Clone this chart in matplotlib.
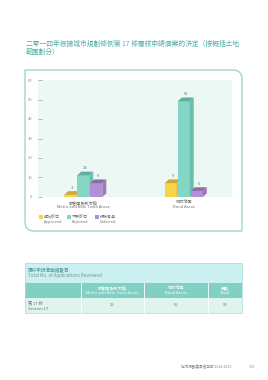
import matplotlib
matplotlib.use('Agg')

import matplotlib.pyplot as plt
from matplotlib.patches import Rectangle, Polygon, PathPatch
from matplotlib.path import Path

plt.rcParams['font.family'] = ['Noto Sans CJK TC', 'DejaVu Sans']

# data
TITLE_1 = "二零一四年根據城市規劃條例第 17 條覆核申請個案的決定（按概括土地"
TITLE_2 = "範圍劃分）"
areas_zh = ["都會區及新市鎮", "鄉郊地區"]
areas_en = ["Metro and New Town Areas", "Rural Areas"]
series_zh = ["獲批許可", "不予許可", "押後考慮"]
series_en = ["Approved", "Rejected", "Deferred"]
approved = [3, 9]
rejected = [13, 51]
deferred = [9, 5]
y_ticks = [0, 10, 20, 30, 40, 50, 60]

table_title_zh = "覆核申請個案總數目"
table_title_en = "Total No. of Applications Reviewed"
table_cols_zh = ["都會區及新市鎮", "鄉郊地區", "總數"]
table_cols_en = ["Metro and New Town Areas", "Rural Areas", "Total"]
row_zh = "第 17 條"
row_en = "Section 17"
row_values = [25, 65, 90]

FRONT = ["#f8d44a", "#84d6c6", "#b38fd3"]
TOP = ["#cfa835", "#5fae9f", "#8c6ba9"]
SIDE = ["#e2bb3a", "#6cbfae", "#9c79bc"]

W, H = 268, 380
fig = plt.figure(figsize=(W / 100, H / 100), dpi=100)


def fx(px):
    return px / W


def fy(py):
    return 1 - py / H


TEAL = "#55ada4"
GRAY = "#8a8a8a"
TXT = "#707070"

# title
fig.text(fx(26), fy(44), TITLE_1, fontsize=4.9, color=TEAL, va='center')
fig.text(fx(26), fy(52), TITLE_2, fontsize=4.9, color=TEAL, va='center')

# panel with two rounded corners (top-right, bottom-left)
l, r, t, b, rad = 25, 242, 70, 231, 9
verts = [(l, t), (r - rad, t), (r, t), (r, t + rad), (r, b), (l + rad, b),
         (l, b), (l, b - rad), (l, t)]
codes = [Path.MOVETO, Path.LINETO, Path.CURVE3, Path.CURVE3, Path.LINETO,
         Path.LINETO, Path.CURVE3, Path.CURVE3, Path.CLOSEPOLY]
verts = [(fx(x), fy(y)) for x, y in verts]
fig.patches.append(PathPatch(Path(verts, codes), transform=fig.transFigure,
                             facecolor='white', edgecolor='#8fd5ca', lw=0.9,
                             zorder=-5))

# chart
ax = fig.add_axes([fx(38), fy(197), fx(232) - fx(38), fy(80) - fy(197)])
ax.set_zorder(2)
ax.set_facecolor('#ebf8f4')
for s in ax.spines.values():
    s.set_visible(False)
ax.set_xlim(-0.45, 1.48)
ax.set_ylim(0, 60)
ax.set_xticks([])
ax.set_yticks(y_ticks)
ax.tick_params(axis='y', direction='in', length=3.2, width=0.5, color='#9a9a9a',
               labelsize=3, labelcolor=GRAY, pad=4)

w = 0.119
step = 0.13
dx, dy = 0.04, 1.9
for i, vals in enumerate([approved, rejected, deferred]):
    xs = [j + (i - 1) * step - w / 2 for j in range(len(vals))]
    fronts = [v - dy for v in vals]
    ax.bar(xs, fronts, width=w, align='edge', color=FRONT[i], zorder=2 + i)
    for x0, v, h in zip(xs, vals, fronts):
        ax.add_patch(Polygon([(x0, h), (x0 + dx, v), (x0 + w + dx, v), (x0 + w, h)],
                             closed=True, facecolor=TOP[i], lw=0, zorder=2 + i))
        ax.add_patch(Polygon([(x0 + w, 0), (x0 + w + dx, dy), (x0 + w + dx, v), (x0 + w, h)],
                             closed=True, facecolor=SIDE[i], lw=0, zorder=2 + i))
        ax.text(x0 + (w + dx) / 2, v + 0.8, str(v), ha='center', va='bottom',
                fontsize=3, color=TXT, zorder=6)

for j in range(len(areas_zh)):
    ax.text(j, -1.6, areas_zh[j], ha='center', va='top', fontsize=3, color=TXT)
    ax.text(j, -4.3, areas_en[j], ha='center', va='top', fontsize=3, color=TXT)

# legend
for i in range(3):
    x0 = 39 + i * 28
    fig.patches.append(Rectangle((fx(x0), fy(219)), fx(4), fy(215) - fy(219),
                                 transform=fig.transFigure, facecolor=FRONT[i], lw=0))
    fig.text(fx(x0 + 5), fy(217), series_zh[i], fontsize=2.9, color=TXT, va='center')
    fig.text(fx(x0 + 5), fy(222), series_en[i], fontsize=2.9, color=TXT, va='center')

# table
tl, tr = 25, 242
col_edges = [25, 81, 144, 208, 242]


def band(y0, y1, color, x0=tl, x1=tr):
    fig.patches.append(Rectangle((fx(x0), fy(y1)), fx(x1) - fx(x0), fy(y0) - fy(y1),
                                 transform=fig.transFigure, facecolor=color, lw=0))


band(263, 283, '#cbf0f2')
band(283, 298, '#82d0c3')
band(298, 313, '#dff3ef')
for xe in col_edges[1:-1]:
    fig.lines.append(plt.Line2D([fx(xe), fx(xe)], [fy(283), fy(313)],
                                transform=fig.transFigure, color='white', lw=0.6))
fig.patches.append(Rectangle((fx(tl), fy(313)), fx(tr) - fx(tl), fy(263) - fy(313),
                             transform=fig.transFigure, facecolor='none',
                             edgecolor='#a3dfd9', lw=0.5))

fig.text(fx(28), fy(270), table_title_zh, fontsize=3.3, color='#4f9690', va='center')
fig.text(fx(28), fy(276), table_title_en, fontsize=3.3, color='#76928f', va='center')
for k in range(3):
    cx = (col_edges[k + 1] + col_edges[k + 2]) / 2
    fig.text(fx(cx), fy(287.5), table_cols_zh[k], fontsize=3, color='white',
             ha='center', va='center')
    fig.text(fx(cx), fy(293.5), table_cols_en[k], fontsize=3, color='white',
             ha='center', va='center')
    fig.text(fx(cx), fy(305.5), str(row_values[k]), fontsize=3, color=TXT,
             ha='center', va='center')
fig.text(fx(28), fy(302.5), row_zh, fontsize=3, color=TXT, va='center')
fig.text(fx(28), fy(308.5), row_en, fontsize=3, color=TXT, va='center')

# footer
fig.text(fx(231), fy(367), "城市規劃委員會年報 2014-2015", fontsize=2.6,
         color='#888888', ha='right', va='center')
fig.text(fx(252), fy(367), "119", fontsize=2.6, color='#888888', ha='center', va='center')

fig.savefig('out.png', dpi=100)
